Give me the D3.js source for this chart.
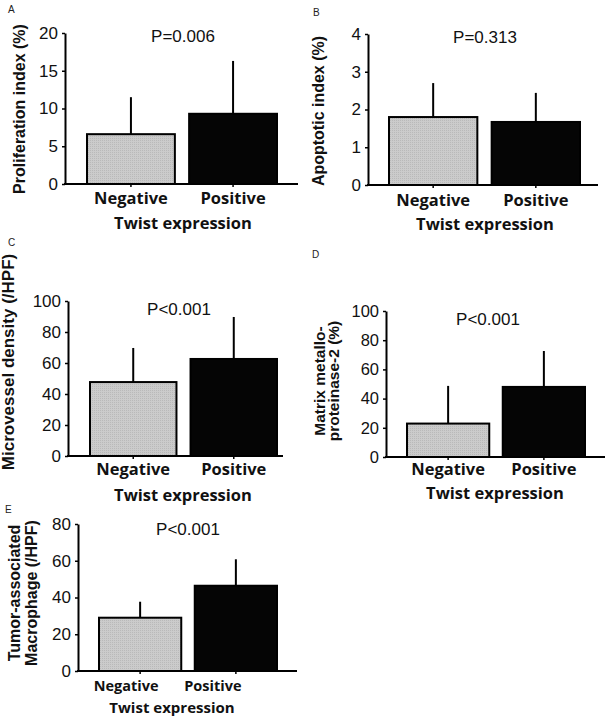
<!DOCTYPE html>
<html>
<head>
<meta charset="utf-8">
<script src="https://cdn.jsdelivr.net/npm/d3@7"></script>
<style>
  body { margin: 0; background: #fff; }
  svg { display: block; }
</style>
</head>
<body>
<svg id="vis"></svg>
<script>
// values (mean and +SD per group)
var panelIds = ["A", "B", "C", "D", "E"];
var categories = ["Negative", "Positive"];
var axisTitle = "Twist expression";
var yTitles = [
    ["Proliferation index (%)"],
    ["Apoptotic index (%)"],
    ["Microvessel density (/HPF)"],
    ["Matrix metallo-", "proteinase-2 (%)"],
    ["Tumor-associated", "Macrophage (/HPF)"]
];
var pLabels = ["P=0.006", "P=0.313", "P<0.001", "P<0.001", "P<0.001"];
var negMean = [6.6, 1.8, 47.7, 22.9, 29.0];
var posMean = [9.3, 1.67, 62.6, 48.0, 46.4];
var negSD = [4.9, 0.9, 22.0, 25.8, 8.7];
var posSD = [7.0, 0.77, 27.1, 24.6, 14.4];
var yMax = [20, 4, 100, 100, 80];
var yStep = [5, 1, 20, 20, 20];

const WIDTH = 607;
const HEIGHT = 724;

// where each little chart sits on the page
var layout = [
    {ax: 65, y0: 184, yTop: 33, xEnd: 298, b0: 86, b1: 278, tick: 17, ttl: 16, ttlX: [25], ttlY: 109,
     pX: 183, pY: 42, catY: 204, twY: 229, twX: 183, catOff: [0, 0], catSize: 16.5, twSize: 16.5, letter: [8, 13]},
    {ax: 368, y0: 185, yTop: 34, xEnd: 598, b0: 388, b1: 581, tick: 17, ttl: 16, ttlX: [324], ttlY: 111,
     pX: 485, pY: 43, catY: 206, twY: 230, twX: 485, catOff: [0, 0], catSize: 16.5, twSize: 16.5, letter: [313, 16]},
    {ax: 68, y0: 456, yTop: 301, xEnd: 283, b0: 89, b1: 278, tick: 17, ttl: 17, ttlX: [14], ttlY: 362,
     pX: 179, pY: 315, catY: 475, twY: 501, twX: 183, catOff: [0, 0], catSize: 16.5, twSize: 16.5, letter: [8, 246]},
    {ax: 386, y0: 457, yTop: 311, xEnd: 605, b0: 406, b1: 586, tick: 16.5, ttl: 15.5, ttlX: [325, 339], ttlY: 381,
     pX: 488, pY: 325, catY: 475, twY: 499, twX: 495, catOff: [0, 0], catSize: 16.5, twSize: 16.5, letter: [312, 258]},
    {ax: 78, y0: 671, yTop: 524, xEnd: 297, b0: 98, b1: 278, tick: 17, ttl: 16, ttlX: [20, 37], ttlY: 593,
     pX: 188, pY: 535, catY: 691, twY: 713, twX: 172, catOff: [-14, -23], catSize: 14.5, twSize: 15, letter: [5, 513]}
];

window.onload = function() {
    setupVis();
};

function setupVis() {
    let svg = d3.select("#vis")
        .attr("width", WIDTH)
        .attr("height", HEIGHT)
        .style("font-family", "'Liberation Sans', Arial, sans-serif");

    // dotted light grey fill used for the negative bars
    let defs = svg.append("defs");
    let pat = defs.append("pattern")
        .attr("id", "dots")
        .attr("width", 2)
        .attr("height", 2)
        .attr("patternUnits", "userSpaceOnUse");
    pat.append("rect").attr("width", 2).attr("height", 2).attr("fill", "#cbcbcb");
    pat.append("rect").attr("width", 1).attr("height", 1).attr("fill", "#b9b9b9");

    for (var i = 0; i < panelIds.length; i++) {
        drawPanel(svg, i, layout[i]);
    }
}

function drawPanel(svg, i, L) {
    let g = svg.append("g");

    let yScale = d3.scaleLinear()
        .domain([0, yMax[i]])
        .range([L.y0, L.yTop]);

    let xScale = d3.scaleBand()
        .domain(categories)
        .range([L.b0, L.b1])
        .paddingInner(0.12)
        .paddingOuter(0);

    let rows = [
        {cat: categories[0], mean: negMean[i], sd: negSD[i], fill: "url(#dots)"},
        {cat: categories[1], mean: posMean[i], sd: posSD[i], fill: "#050505"}
    ];

    // error bars first so the bar outline sits on top
    g.selectAll("line.err")
        .data(rows)
        .enter()
        .append("line")
        .attr("class", "err")
        .attr("x1", function(d) { return xScale(d.cat) + xScale.bandwidth() / 2; })
        .attr("x2", function(d) { return xScale(d.cat) + xScale.bandwidth() / 2; })
        .attr("y1", function(d) { return yScale(d.mean); })
        .attr("y2", function(d) { return yScale(d.mean + d.sd); })
        .attr("stroke", "#000")
        .attr("stroke-width", 2);

    g.selectAll("rect.bar")
        .data(rows)
        .enter()
        .append("rect")
        .attr("class", "bar")
        .attr("x", function(d) { return xScale(d.cat) + 1; })
        .attr("y", function(d) { return yScale(d.mean); })
        .attr("width", xScale.bandwidth() - 2)
        .attr("height", function(d) { return L.y0 - yScale(d.mean); })
        .attr("fill", function(d) { return d.fill; })
        .attr("stroke", "#000")
        .attr("stroke-width", 2);

    // y axis
    let ticks = d3.range(0, yMax[i] + yStep[i] / 2, yStep[i]);
    let yAxis = d3.axisLeft(yScale)
        .tickValues(ticks)
        .tickSize(3)
        .tickSizeOuter(0)
        .tickPadding(4)
        .tickFormat(d3.format("d"));
    let ya = g.append("g")
        .attr("transform", "translate(" + L.ax + ",0)")
        .call(yAxis);
    ya.select(".domain").attr("stroke-width", 2).attr("stroke", "#000");
    ya.selectAll(".tick line").attr("stroke-width", 1.5).attr("stroke", "#000");
    ya.selectAll(".tick text")
        .attr("font-family", "'Liberation Sans', Arial, sans-serif")
        .attr("font-size", L.tick + "px")
        .attr("fill", "#111");

    // x axis line with small ticks under the bars
    g.append("line")
        .attr("x1", L.ax - 1)
        .attr("x2", L.xEnd)
        .attr("y1", L.y0)
        .attr("y2", L.y0)
        .attr("stroke", "#000")
        .attr("stroke-width", 2);
    g.selectAll("line.xt")
        .data(categories)
        .enter()
        .append("line")
        .attr("class", "xt")
        .attr("x1", function(d) { return xScale(d) + xScale.bandwidth() / 2; })
        .attr("x2", function(d) { return xScale(d) + xScale.bandwidth() / 2; })
        .attr("y1", L.y0)
        .attr("y2", L.y0 + 3)
        .attr("stroke", "#000")
        .attr("stroke-width", 1.5);

    // category labels
    g.selectAll("text.cat")
        .data(categories)
        .enter()
        .append("text")
        .attr("class", "cat")
        .text(function(d) { return d; })
        .attr("x", function(d, k) { return xScale(d) + xScale.bandwidth() / 2 + L.catOff[k]; })
        .attr("y", L.catY)
        .attr("font-family", "'Open Sans', sans-serif")
        .attr("font-weight", 700)
        .attr("font-size", L.catSize + "px")
        .attr("fill", "#111")
        .style("text-anchor", "middle");

    g.append("text")
        .text(axisTitle)
        .attr("x", L.twX)
        .attr("y", L.twY)
        .attr("font-family", "'Open Sans', sans-serif")
        .attr("font-weight", 700)
        .attr("font-size", L.twSize + "px")
        .attr("fill", "#111")
        .style("text-anchor", "middle");

    // p value
    g.append("text")
        .text(pLabels[i])
        .attr("x", L.pX)
        .attr("y", L.pY)
        .attr("font-size", "17px")
        .attr("fill", "#111")
        .style("text-anchor", "middle");

    // rotated y title, one or two lines
    yTitles[i].forEach(function(line, k) {
        g.append("text")
            .text(line)
            .attr("transform", "translate(" + L.ttlX[k] + "," + L.ttlY + ") rotate(-90)")
            .attr("font-weight", "bold")
            .attr("font-size", L.ttl + "px")
            .attr("fill", "#111")
            .style("text-anchor", "middle");
    });

    // panel letter
    g.append("text")
        .text(panelIds[i])
        .attr("x", L.letter[0])
        .attr("y", L.letter[1])
        .attr("font-size", "10px")
        .attr("fill", "#222");
}
</script>
</body>
</html>
